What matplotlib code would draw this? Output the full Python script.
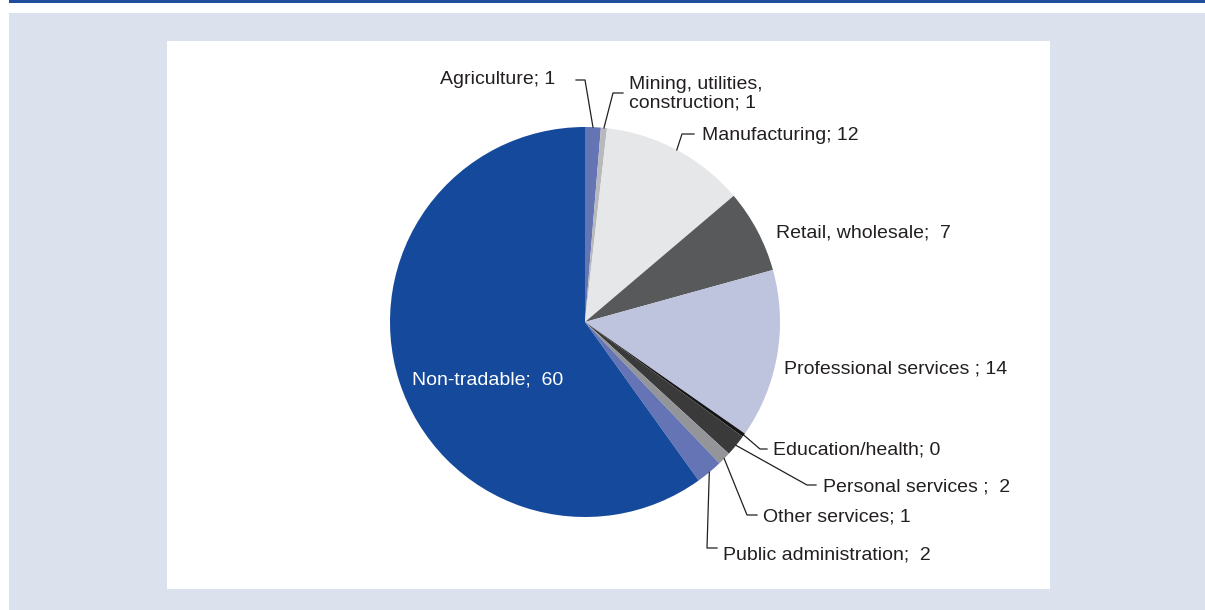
import numpy as np
import matplotlib
matplotlib.use('Agg')
from matplotlib import pyplot as plt
from matplotlib.patches import Rectangle

plt.rcParams['font.family'] = ['Liberation Sans', 'DejaVu Sans']

sectors = ['Agriculture', 'Mining, utilities,\nconstruction', 'Manufacturing', 'Retail, wholesale',
           'Professional services', 'Education/health', 'Personal services', 'Other services',
           'Public administration', 'Non-tradable']
shares = [1.3, 0.5, 12.0, 6.9, 14.0, 0.3, 1.8, 1.1, 2.2, 59.9]
shown = ['1', '1', '12', '7', '14', '0', '2', '1', '2', '60']
colors = ['#6474b5', '#b8b9bc', '#e6e7e8', '#58595b', '#bec3de', '#151515', '#3a3a3b',
          '#939598', '#6474b5', '#15499b']

W, H = 1205, 610
CX, CY, R = 585, 322, 195

fig = plt.figure(figsize=(W / 100, H / 100), dpi=100)
fig.patches.append(Rectangle((9 / W, 1 - 2.5 / H), 1, 2.5 / H, transform=fig.transFigure,
                             color='#1f4e9c', lw=0, zorder=-10))
fig.patches.append(Rectangle((9 / W, 0), 1, (H - 13) / H, transform=fig.transFigure,
                             color='#dce2ed', lw=0, zorder=-10))
fig.patches.append(Rectangle((167 / W, (H - 589) / H), (1050 - 167) / W, (589 - 41) / H,
                             transform=fig.transFigure, color='white', lw=0, zorder=-9))

ax = fig.add_axes([(CX - R) / W, (H - CY - R) / H, 2 * R / W, 2 * R / H])
wedges, _ = ax.pie(shares, colors=colors, startangle=90, counterclock=False,
                   wedgeprops=dict(linewidth=0))
ax.set_xlim(-1, 1)
ax.set_ylim(-1, 1)
ax.axis('off')


def d(px, py):
    return (px - CX) / R, (CY - py) / R


# label text anchor (pixels), alignment, leader elbow (pixels) and leader end x
layout = [
    ((555, 80), 'right', (585, 80), 576),
    ((629, 94), 'left', (613, 93), 623),
    ((702, 136), 'left', (682, 134), 694),
    ((776, 233), 'left', None, None),
    ((784, 369), 'left', None, None),
    ((773, 450), 'left', (760, 449), 767),
    ((823, 487), 'left', (807, 485), 816),
    ((763, 517), 'left', (747, 515), 757),
    ((723, 555), 'left', (707, 548), 717),
]
seps = ['; ', '; ', '; ', ';  ', ' ; ', '; ', ' ;  ', '; ', ';  ']

for i, (pos, ha, elbow, endx) in enumerate(layout):
    w = wedges[i]
    th = np.deg2rad((w.theta1 + w.theta2) / 2)
    x0, y0 = np.cos(th), np.sin(th)
    tx, ty = d(*pos)
    ax.text(tx, ty, sectors[i] + seps[i] + shown[i], ha=ha, va='center', fontsize=14,
            color='#231f20', linespacing=1.1)
    if elbow is not None:
        ex, ey = d(*elbow)
        hx, _ = d(endx, elbow[1])
        ax.plot([x0, ex, hx], [y0, ey, ey], color='#231f20', lw=0.9, clip_on=False)

nx, ny = d(488, 380)
ax.text(nx, ny, sectors[9] + ';  ' + shown[9], ha='center', va='center', fontsize=14,
        color='white')

fig.savefig('out.png', dpi=100)
